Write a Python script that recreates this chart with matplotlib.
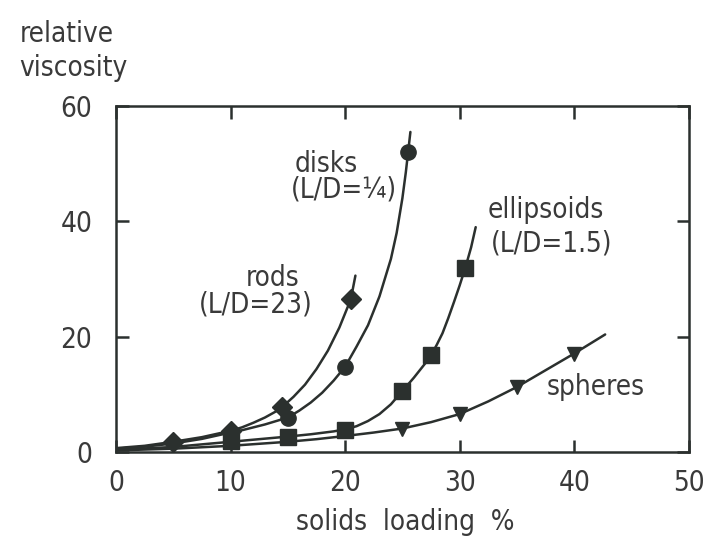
import numpy as np
import matplotlib.pyplot as plt

plt.rcParams['font.family'] = ['DejaVu Sans']
plt.rcParams['font.stretch'] = 'condensed'
ink = '#2b302e'
txt = '#3a3a3a'

# measured points (solids loading %, relative viscosity)
rods_x = [5, 10, 14.5, 20.5]
rods_y = [1.8, 3.7, 7.8, 26.5]
disks_x = [10, 15, 20, 25.5]
disks_y = [3.4, 6.0, 14.8, 52]
ell_x = [10, 15, 20, 25, 27.5, 30.5]
ell_y = [1.9, 2.7, 3.9, 10.6, 16.8, 32]
sph_x = [25, 30, 35, 40]
sph_y = [4.1, 6.6, 11.3, 17.1]

# hand-drawn fit curves
rods_cx = [0, 2.5, 5, 7.5, 10, 11, 12, 13, 14, 14.5, 15.5, 16.5, 17.5, 18.5, 19.5, 20.5, 20.9]
rods_cy = [0.7, 1.1, 1.8, 2.6, 3.7, 4.3, 5.1, 6.0, 7.1, 7.8, 9.6, 11.7, 14.4, 17.6, 21.6, 26.5, 30.6]
disks_cx = [0, 2.5, 5, 7.5, 10, 11, 12, 13, 14, 15, 16, 17, 18, 19, 20, 21, 22, 23, 24,
            24.5, 25, 25.3, 25.5, 25.7]
disks_cy = [0.6, 0.95, 1.5, 2.3, 3.4, 3.8, 4.3, 4.8, 5.4, 6.0, 7.2, 8.6, 10.3, 12.4, 14.8,
            18.3, 22, 27, 33.5, 38, 44, 48.5, 52, 55.5]
ell_cx = [0, 5, 10, 15, 16, 17, 18, 19, 20, 21, 22, 23, 24, 25, 26, 27, 27.5, 28, 28.5,
          29, 29.5, 30, 30.5, 31, 31.4]
ell_cy = [0.4, 0.9, 1.8, 2.7, 2.9, 3.1, 3.35, 3.6, 3.95, 4.5, 5.4, 6.6, 8.3, 10.6, 12.9,
          15.4, 16.8, 18.6, 20.6, 23.2, 26, 28.9, 32, 35.5, 39]
sph_cx = [0, 5, 10, 15, 17.5, 20, 22.5, 25, 27.5, 30, 32.5, 35, 37.5, 40, 42.7]
sph_cy = [0.3, 0.6, 1.1, 1.8, 2.25, 2.8, 3.4, 4.1, 5.2, 6.6, 8.8, 11.3, 14.2, 17.1, 20.4]

fig = plt.figure(figsize=(7.05, 5.37), dpi=100)
ax = fig.add_axes([0.1645, 0.158, 0.8125, 0.6446])

for cx, cy in [(rods_cx, rods_cy), (disks_cx, disks_cy), (ell_cx, ell_cy), (sph_cx, sph_cy)]:
    ax.plot(cx, cy, color=ink, lw=1.8, solid_capstyle='round', solid_joinstyle='round')

ax.plot(rods_x, rods_y, 'D', color=ink, ms=10)
ax.plot(disks_x, disks_y, 'o', color=ink, ms=11)
ax.plot(ell_x, ell_y, 's', color=ink, ms=11.5)
ax.plot(sph_x, sph_y, 'v', color=ink, ms=10)

ax.set_xlim(0, 50)
ax.set_ylim(0, 60)
ax.set_xticks([0, 10, 20, 30, 40, 50])
ax.set_yticks([0, 20, 40, 60])
ax.tick_params(direction='in', length=9, width=1.8, color=ink, labelsize=20,
               labelcolor=txt, top=True, right=True)
ax.tick_params(axis='x', pad=12)
ax.tick_params(axis='y', pad=17)
for s in ax.spines.values():
    s.set_linewidth(1.8)
    s.set_color(ink)

fs = 20
ax.text(15.6, 50, 'disks', fontsize=fs, color=txt, va='center')
ax.text(15.3, 45.6, '(L/D=¼)', fontsize=fs, color=txt, va='center')
ax.text(11.3, 30.2, 'rods', fontsize=fs, color=txt, va='center')
ax.text(7.2, 25.6, '(L/D=23)', fontsize=fs, color=txt, va='center')
ax.text(32.4, 41.9, 'ellipsoids', fontsize=fs, color=txt, va='center')
ax.text(32.7, 36.1, '(L/D=1.5)', fontsize=fs, color=txt, va='center')
ax.text(37.6, 11.3, 'spheres', fontsize=fs, color=txt, va='center')

fig.text(0.028, 0.905, 'relative\nviscosity', fontsize=fs, color=txt, va='center',
         ha='left', linespacing=1.3)
fig.text(0.575, 0.028, 'solids  loading  %', fontsize=fs, color=txt, ha='center', va='center')

fig.savefig('out.png', dpi=100)
